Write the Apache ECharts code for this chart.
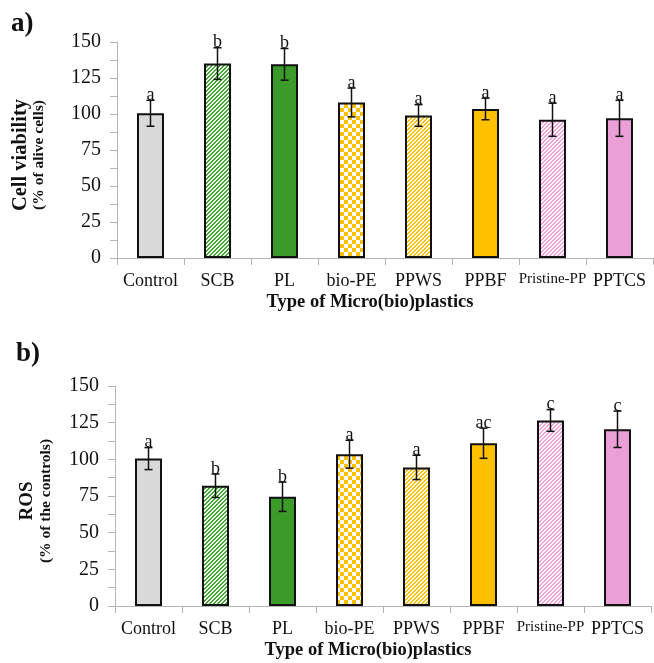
<!DOCTYPE html>
<html><head><meta charset="utf-8">
<script src="https://cdn.jsdelivr.net/npm/echarts@6/dist/echarts.min.js"></script>
<style>html,body{margin:0;padding:0;background:#fff}#c{width:654px;height:663px}</style>
</head><body><div id="c"></div>
<script>
const categories = ['Control','SCB','PL','bio-PE','PPWS','PPBF','Pristine-PP','PPTCS'];
const viability = [100.5, 135, 134.5, 108, 99, 103.5, 96, 97];
const viabilityErr = [9, 11, 11, 10, 7.5, 7.5, 11.5, 12.5];
const viabilityLetters = ['a','b','b','a','a','a','a','a'];
const ros = [100.5, 82, 74.5, 103.5, 94.5, 111, 126.5, 120.5];
const rosErr = [7.5, 8, 10, 9.5, 8.3, 10.3, 7.4, 12.4];
const rosLetters = ['a','b','b','a','a','ac','c','c'];
const yTicks = [0, 25, 50, 75, 100, 125, 150];

const FONT = "'Liberation Serif','Times New Roman',serif";
const GREEN = '#3b9b2a', ORANGE = '#ffc000', PINK = '#eaa0d6', GRAY = '#d9d9d9';

function stripes(color, period, on) {
  const c = document.createElement('canvas');
  c.width = period; c.height = period;
  const g = c.getContext('2d');
  g.fillStyle = '#fff'; g.fillRect(0, 0, period, period);
  g.fillStyle = color;
  for (let x = 0; x < period; x++) for (let y = 0; y < period; y++) {
    if ((x + y) % period < on) g.fillRect(x, y, 1, 1);
  }
  return { image: c, repeat: 'repeat' };
}
function checker(color, size) {
  const c = document.createElement('canvas');
  c.width = size * 2; c.height = size * 2;
  const g = c.getContext('2d');
  g.fillStyle = '#fff'; g.fillRect(0, 0, size * 2, size * 2);
  g.fillStyle = color;
  g.fillRect(0, 0, size, size); g.fillRect(size, size, size, size);
  return { image: c, repeat: 'repeat' };
}
const fills = [GRAY, stripes('#40a830', 4, 2), GREEN, checker(ORANGE, 4),
  stripes(ORANGE, 4, 2), ORANGE, stripes('#f0a2dc', 4, 2), PINK];

const axisColor = '#b4b4b4';
function xAxis(gi) {
  return {
    type: 'category', gridIndex: gi,
    data: categories.map(c => c === 'Pristine-PP' ? { value: c, textStyle: { fontSize: 15 } } : c),
    axisLine: { lineStyle: { color: axisColor, width: 1 } },
    axisTick: { show: true, length: 7, lineStyle: { color: axisColor } },
    axisLabel: { color: '#111', fontFamily: FONT, fontSize: 18, margin: 14, interval: 0 },
    name: 'Type of Micro(bio)plastics', nameLocation: 'middle', nameGap: 35,
    nameTextStyle: { color: '#111', fontFamily: FONT, fontSize: 18.5, fontWeight: 'bold', padding: [0, 30, 0, 0] }
  };
}
function yAxis(gi, l1, l2, gap, f1) {
  return {
    type: 'value', gridIndex: gi, min: yTicks[0], max: yTicks[yTicks.length - 1], interval: 25,
    axisLine: { show: true, lineStyle: { color: axisColor, width: 1 } },
    axisTick: { show: true, length: 7, lineStyle: { color: axisColor } },
    minorTick: { show: true, splitNumber: 2, length: 7, lineStyle: { color: axisColor } },
    splitLine: { show: false },
    axisLabel: { color: '#111', fontFamily: FONT, fontSize: 20, margin: 16 },
    name: '{t|' + l1 + '}\n{s|' + l2 + '}', nameLocation: 'middle', nameRotate: 90, nameGap: gap,
    nameTextStyle: {
      padding: [0, 10, 0, 0],
      rich: {
        t: { fontFamily: FONT, fontSize: f1, fontWeight: 'bold', color: '#111', lineHeight: 19 },
        s: { fontFamily: FONT, fontSize: 15.5, fontWeight: 'bold', color: '#111', lineHeight: 17 }
      }
    }
  };
}
function bars(gi, vals) {
  return {
    type: 'bar', xAxisIndex: gi, yAxisIndex: gi, barWidth: 27,
    data: vals.map((v, i) => ({ value: v, itemStyle: { color: fills[i] } })),
    itemStyle: { borderColor: '#111', borderWidth: 2 },
    emphasis: { disabled: true }, animation: false
  };
}
function errs(gi, vals, err, letters) {
  return {
    type: 'custom', xAxisIndex: gi, yAxisIndex: gi, animation: false, z: 5,
    data: vals.map((v, i) => [i, v, err[i], letters[i]]),
    renderItem: function (params, api) {
      const i = api.value(0), v = api.value(1), e = api.value(2);
      const lo = api.coord([i, v - e]), hi = api.coord([i, v + e]);
      const x = lo[0], w = 4;
      const st = { stroke: '#111', lineWidth: 1.5 };
      return {
        type: 'group', children: [
          { type: 'line', shape: { x1: x, y1: lo[1], x2: x, y2: hi[1] }, style: st },
          { type: 'line', shape: { x1: x - w, y1: lo[1], x2: x + w, y2: lo[1] }, style: st },
          { type: 'line', shape: { x1: x - w, y1: hi[1], x2: x + w, y2: hi[1] }, style: st },
          { type: 'text', style: { text: letters[i], x: x, y: hi[1] + 4, align: 'center', verticalAlign: 'bottom',
            font: '18px ' + FONT, fill: '#111' } }
        ]
      };
    }
  };
}

const chart = echarts.init(document.getElementById('c'), null, { renderer: 'canvas' });
chart.setOption({
  animation: false,
  grid: [
    { left: 117, top: 42, width: 536, height: 216 },
    { left: 115, top: 386, width: 536, height: 220 }
  ],
  xAxis: [xAxis(0), xAxis(1)],
  yAxis: [yAxis(0, 'Cell viability', '(% of alive cells)', 70, 20.5), yAxis(1, 'ROS', '(% of the controls)', 61, 19)],
  series: [bars(0, viability), errs(0, viability, viabilityErr, viabilityLetters),
           bars(1, ros), errs(1, ros, rosErr, rosLetters)],
  graphic: [
    { type: 'text', left: 11, top: 11, style: { text: 'a)', font: 'bold 27px ' + FONT, fill: '#111' } },
    { type: 'text', left: 16, top: 341, style: { text: 'b)', font: 'bold 27px ' + FONT, fill: '#111' } }
  ]
});
</script></body></html>
